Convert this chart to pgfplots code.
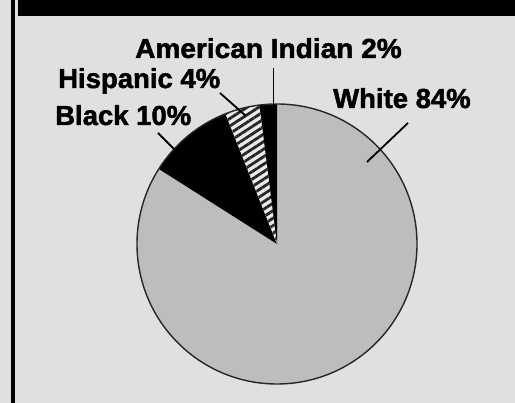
\documentclass[border=0pt]{standalone}
\usepackage{pgfplots}
\pgfplotsset{compat=1.18}
\usepackage{pgfplotstable}
\usetikzlibrary{patterns.meta}
\usepackage{fontspec}
\setmainfont{Liberation Sans}[BoldFeatures={FakeBold=1.7}]
\definecolor{bg}{gray}{0.88}
\definecolor{piegray}{gray}{0.74}
\definecolor{hatchlight}{gray}{0.92}

\pgfplotstableread{
label value
AmericanIndian 2
Hispanic 4
Black 10
White 84
}\slices

\begin{document}%
\begin{tikzpicture}
\pgfplotstablegetelem{0}{value}\of\slices \let\vA\pgfplotsretval
\pgfplotstablegetelem{1}{value}\of\slices \let\vB\pgfplotsretval
\pgfplotstablegetelem{2}{value}\of\slices \let\vC\pgfplotsretval
\pgfplotstablegetelem{3}{value}\of\slices \let\vD\pgfplotsretval
\pgfmathsetmacro\aA{90}
\pgfmathsetmacro\aB{\aA+3.6*\vA}
\pgfmathsetmacro\aC{\aB+3.6*\vB}
\pgfmathsetmacro\aD{\aC+3.6*\vC}
\pgfmathsetmacro\aE{\aD+3.6*\vD}
\begin{axis}[x=1pt, y=1pt, xmin=0, xmax=515, ymin=0, ymax=403,
  axis lines=none, xtick=\empty, ytick=\empty, clip=false,
  anchor=origin, at={(0pt,0pt)}]
  % background and frame
  \fill[bg] (axis cs:0,0) rectangle (axis cs:515,403);
  \fill[black] (axis cs:18,403) rectangle (axis cs:515,386.5);
  \fill[black] (axis cs:10.5,0) rectangle (axis cs:14.5,403);
  % pie slices
  \def\cx{277}\def\cy{159}\def\r{140pt}
  \fill[piegray] (axis cs:\cx,\cy) -- ++(\aD:\r) arc[start angle=\aD, end angle=\aE, radius=\r] -- cycle;
  \fill[black] (axis cs:\cx,\cy) -- ++(\aC:\r) arc[start angle=\aC, end angle=\aD, radius=\r] -- cycle;
  \fill[hatchlight] (axis cs:\cx,\cy) -- ++(\aB:\r) arc[start angle=\aB, end angle=\aC, radius=\r] -- cycle;
  \fill[pattern={Lines[angle=33, distance=6.3pt, line width=2.8pt]}, pattern color=black!85] (axis cs:\cx,\cy) -- ++(\aB:\r) arc[start angle=\aB, end angle=\aC, radius=\r] -- cycle;
  \fill[black] (axis cs:\cx,\cy) -- ++(\aA:\r) arc[start angle=\aA, end angle=\aB, radius=\r] -- cycle;
  \draw[black!85, line width=1.4pt] (axis cs:\cx,\cy) circle[radius=\r];
  % leader lines
  \draw[black, line width=1.8pt] (axis cs:273.5,335) -- (axis cs:273.5,290);
  \draw[black, line width=1.8pt] (axis cs:220,310) -- (axis cs:246,287);
  \draw[black, line width=1.8pt] (axis cs:158,270) -- (axis cs:174,254);
  \draw[black, line width=1.8pt] (axis cs:408,280) -- (axis cs:367,241);
  % labels
  \begin{scope}[every node/.style={inner sep=0pt, font=\bfseries\fontsize{27.5}{30}\selectfont}]
  \node[anchor=base west, xscale=1.02] at (axis cs:135,345) {American Indian 2\%};
  \node[anchor=base west] at (axis cs:58,315) {Hispanic 4\%};
  \node[anchor=base west] at (axis cs:55,278) {Black 10\%};
  \node[anchor=base west] at (axis cs:333,295) {White 84\%};
  \end{scope}
\end{axis}
\pgfresetboundingbox
\useasboundingbox (0pt,0pt) rectangle (515pt,403pt);
\end{tikzpicture}%
\end{document}
